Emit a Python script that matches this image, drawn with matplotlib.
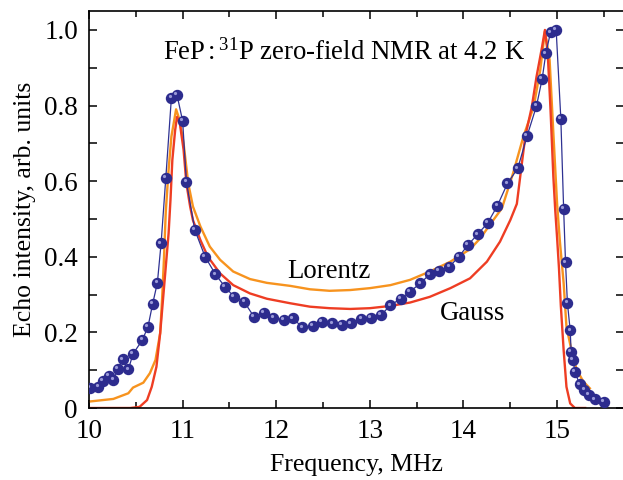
import matplotlib.pyplot as plt
import matplotlib.transforms as mtransforms
from matplotlib.ticker import MultipleLocator, FuncFormatter

plt.rcParams['font.family'] = ['Liberation Serif', 'DejaVu Serif']
plt.rcParams['mathtext.fontset'] = 'custom'
plt.rcParams['mathtext.rm'] = 'Liberation Serif'
plt.rcParams['mathtext.it'] = 'Liberation Serif:italic'

# measured echo intensity
freq = [10.01, 10.10, 10.15, 10.21, 10.26, 10.31, 10.36, 10.42, 10.47, 10.57,
        10.63, 10.68, 10.73, 10.77, 10.82, 10.88, 10.94, 11.00, 11.04, 11.13,
        11.24, 11.35, 11.45, 11.55, 11.66, 11.76, 11.87, 11.97, 12.08, 12.18,
        12.28, 12.39, 12.49, 12.60, 12.70, 12.80, 12.91, 13.01, 13.12, 13.22,
        13.33, 13.43, 13.54, 13.64, 13.74, 13.85, 13.95, 14.05, 14.15, 14.26,
        14.36, 14.47, 14.58, 14.68, 14.78, 14.84, 14.88, 14.93, 14.99, 15.04,
        15.07, 15.09, 15.11, 15.14, 15.15, 15.17, 15.19, 15.24, 15.29, 15.34,
        15.40, 15.50]
echo = [0.054, 0.056, 0.071, 0.085, 0.074, 0.103, 0.129, 0.102, 0.143, 0.180,
        0.215, 0.276, 0.331, 0.436, 0.608, 0.821, 0.828, 0.759, 0.598, 0.471,
        0.400, 0.354, 0.321, 0.294, 0.280, 0.242, 0.251, 0.239, 0.233, 0.237,
        0.213, 0.218, 0.228, 0.224, 0.220, 0.224, 0.235, 0.239, 0.246, 0.272,
        0.289, 0.308, 0.330, 0.354, 0.362, 0.374, 0.400, 0.432, 0.459, 0.490,
        0.534, 0.594, 0.634, 0.720, 0.799, 0.870, 0.938, 0.994, 1.000, 0.765,
        0.526, 0.385, 0.279, 0.205, 0.149, 0.127, 0.096, 0.063, 0.048, 0.034,
        0.023, 0.017]

# Lorentz fit
lor_f = [10.00, 10.26, 10.42, 10.47, 10.58, 10.65, 10.71, 10.76, 10.78, 10.80,
         10.82, 10.85, 10.88, 10.93, 10.97, 11.01, 11.06, 11.11, 11.19, 11.29,
         11.40, 11.54, 11.72, 11.90, 12.15, 12.36, 12.57, 12.79, 13.00, 13.22,
         13.43, 13.64, 13.86, 14.07, 14.18, 14.28, 14.41, 14.53, 14.64, 14.75,
         14.82, 14.87, 14.92, 14.96, 15.00, 15.03, 15.07, 15.10, 15.16, 15.21,
         15.28, 15.35]
lor_y = [0.017, 0.024, 0.039, 0.054, 0.067, 0.092, 0.127, 0.198, 0.286, 0.392,
         0.520, 0.630, 0.718, 0.790, 0.760, 0.700, 0.594, 0.533, 0.480, 0.427,
         0.392, 0.361, 0.341, 0.331, 0.323, 0.314, 0.310, 0.312, 0.317, 0.325,
         0.339, 0.361, 0.387, 0.420, 0.449, 0.484, 0.528, 0.621, 0.718, 0.797,
         0.894, 0.996, 0.921, 0.727, 0.540, 0.440, 0.330, 0.215, 0.145, 0.101,
         0.070, 0.052]

# Gauss fit
gau_f = [10.00, 10.44, 10.54, 10.62, 10.67, 10.72, 10.76, 10.79, 10.82, 10.85,
         10.87, 10.89, 10.92, 10.94, 10.97, 11.01, 11.04, 11.08, 11.11, 11.19,
         11.27, 11.40, 11.54, 11.72, 11.90, 12.15, 12.36, 12.57, 12.79, 13.00,
         13.22, 13.43, 13.64, 13.86, 14.07, 14.25, 14.39, 14.50, 14.57, 14.62,
         14.66, 14.73, 14.78, 14.84, 14.87, 14.90, 14.93, 14.96, 14.98, 15.00,
         15.02, 15.04, 15.07, 15.10, 15.14, 15.19, 15.30]
gau_y = [0.0, 0.0, 0.003, 0.021, 0.056, 0.109, 0.198, 0.286, 0.374, 0.462,
         0.550, 0.656, 0.735, 0.770, 0.753, 0.683, 0.594, 0.533, 0.497, 0.444,
         0.400, 0.356, 0.325, 0.303, 0.289, 0.277, 0.268, 0.264, 0.262, 0.264,
         0.270, 0.279, 0.294, 0.317, 0.343, 0.387, 0.440, 0.497, 0.540, 0.640,
         0.718, 0.797, 0.876, 0.956, 1.000, 0.938, 0.788, 0.612, 0.524, 0.450,
         0.370, 0.270, 0.153, 0.056, 0.012, 0.0, 0.0]

fig = plt.figure(figsize=(6.23, 4.8), dpi=100)
ax = fig.add_axes([0.1429, 0.15, 0.858, 0.827])

ax.plot(lor_f, lor_y, color='#f7931e', lw=1.7, zorder=2)
ax.plot(gau_f, gau_y, color='#ee3d23', lw=1.7, zorder=2)
ax.plot(freq, echo, color='#2e3192', lw=0.9, marker='o', ms=7.2,
        mfc='#2d2c8e', mec='#2d2c8e', zorder=3)
# little highlight on each ball
hl = mtransforms.offset_copy(ax.transData, fig=fig, x=-1.2, y=1.2, units='points')
ax.plot(freq, echo, ls='none', marker='o', ms=2.3, mfc='#9a9ad8', mec='none',
        transform=hl, zorder=4)

ax.set_xlim(10, 15.71)
ax.set_ylim(0, 1.05)
ax.xaxis.set_major_locator(MultipleLocator(1))
ax.xaxis.set_minor_locator(MultipleLocator(0.5))
ax.yaxis.set_major_locator(MultipleLocator(0.2))
ax.yaxis.set_minor_locator(MultipleLocator(0.1))
ax.yaxis.set_major_formatter(FuncFormatter(lambda v, p: '0' if abs(v) < 1e-9 else f'{v:.1f}'))
ax.tick_params(which='both', direction='in', top=True, right=True, width=1.1,
               labelsize=19.5)
ax.tick_params(axis='x', which='major', length=6, pad=8)
ax.tick_params(axis='x', which='minor', length=4)
ax.tick_params(axis='y', which='both', length=6, pad=8)
for s in ax.spines.values():
    s.set_linewidth(1.2)

ax.set_xlabel('Frequency, MHz', fontsize=18.5, labelpad=7)
ax.set_ylabel('Echo intensity, arb. units', fontsize=18.5, labelpad=6)

ax.text(10.79, 0.94, r'FeP$\,$:$\,^{31}$P zero-field NMR at 4.2 K',
        fontsize=19.3, va='center', ha='left')
ax.text(12.12, 0.362, 'Lorentz', fontsize=19.3, va='center', ha='left')
ax.text(13.75, 0.251, 'Gauss', fontsize=19.3, va='center', ha='left')

fig.savefig('out.png', dpi=100)
